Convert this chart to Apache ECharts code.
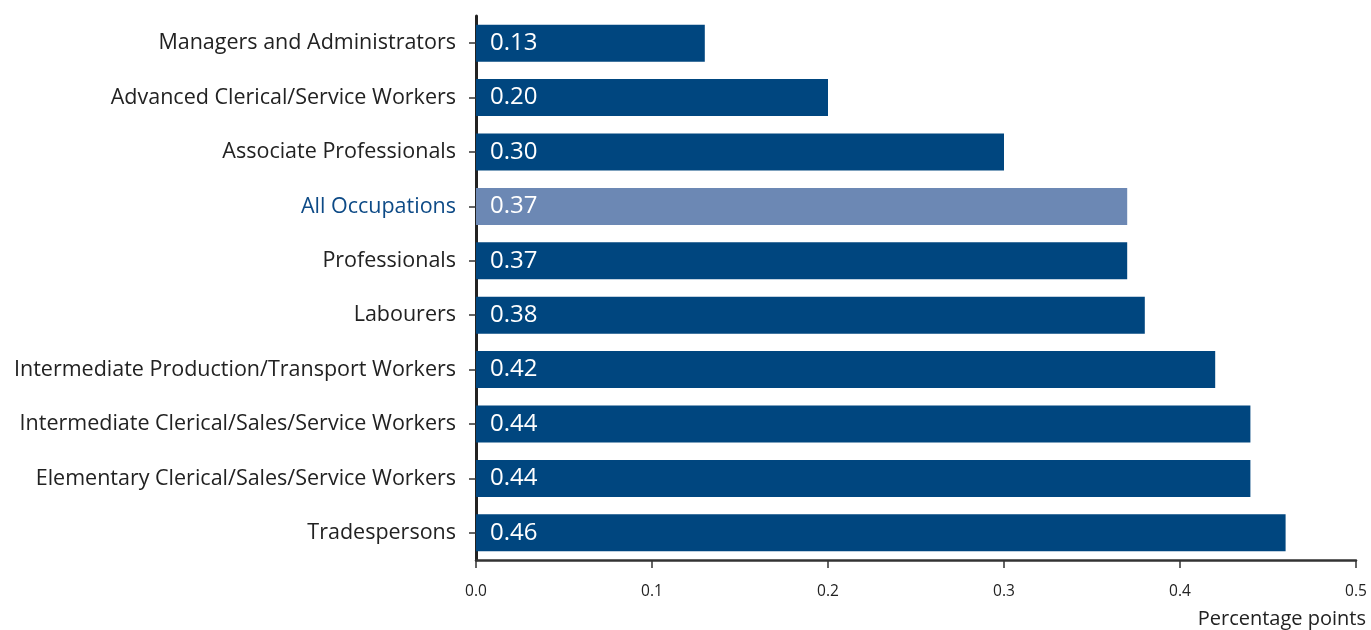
<!DOCTYPE html>
<html>
<head>
<meta charset="utf-8">
<script src="https://cdn.jsdelivr.net/npm/echarts@6/dist/echarts.min.js"></script>
<style>
  html, body { margin: 0; padding: 0; background: #fff; }
  #chart { width: 1371px; height: 630px; }
</style>
</head>
<body>
<div id="chart"></div>
<script>
// Occupation groups, top to bottom
const occupations = [
  'Managers and Administrators',
  'Advanced Clerical/Service Workers',
  'Associate Professionals',
  'All Occupations',
  'Professionals',
  'Labourers',
  'Intermediate Production/Transport Workers',
  'Intermediate Clerical/Sales/Service Workers',
  'Elementary Clerical/Sales/Service Workers',
  'Tradespersons'
];
const values = [0.13, 0.20, 0.30, 0.37, 0.37, 0.38, 0.42, 0.44, 0.44, 0.46];
const highlighted = 'All Occupations';
const xTicks = [0, 0.1, 0.2, 0.3, 0.4, 0.5];
const xTitle = 'Percentage points';

const FONT = '"Open Sans", "Noto Sans", sans-serif';
const DARK = '#00467f';
const LIGHT = '#6c88b4';

const chart = echarts.init(document.getElementById('chart'), null, { renderer: 'canvas' });

chart.setOption({
  animation: false,
  backgroundColor: '#fff',
  grid: { left: 476, right: 15, top: 16, bottom: 70, containLabel: false },
  xAxis: {
    type: 'value',
    min: xTicks[0],
    max: xTicks[xTicks.length - 1],
    interval: 0.1,
    axisLine: { show: true, lineStyle: { color: '#333', width: 2.5 } },
    axisTick: { show: true, length: 8, lineStyle: { color: '#333', width: 1.5 } },
    axisLabel: {
      margin: 24,
      color: '#222',
      fontFamily: FONT,
      fontSize: 15.5,
      formatter: v => v.toFixed(1)
    },
    splitLine: { show: false }
  },
  yAxis: {
    type: 'category',
    inverse: true,
    data: occupations,
    axisLine: { show: true, lineStyle: { color: '#222', width: 3 } },
    axisTick: { show: true, alignWithLabel: true, length: 7, lineStyle: { color: '#333', width: 1.5 } },
    axisLabel: {
      margin: 20,
      fontFamily: FONT,
      fontSize: 21.5,
      color: (val) => val === highlighted ? '#0d4a86' : '#222'
    }
  },
  series: [{
    type: 'bar',
    data: values.map((v, i) => ({
      value: v,
      itemStyle: { color: occupations[i] === highlighted ? LIGHT : DARK }
    })),
    barCategoryGap: '32%',
    label: {
      show: true,
      position: 'insideLeft',
      distance: 14,
      color: '#fff',
      fontFamily: FONT,
      fontSize: 24,
      formatter: p => p.value.toFixed(2)
    }
  }],
  graphic: [{
    type: 'text',
    right: 5,
    top: 609,
    style: {
      text: xTitle,
      fontFamily: FONT,
      fontSize: 20,
      fill: '#222'
    }
  }]
});
</script>
</body>
</html>
